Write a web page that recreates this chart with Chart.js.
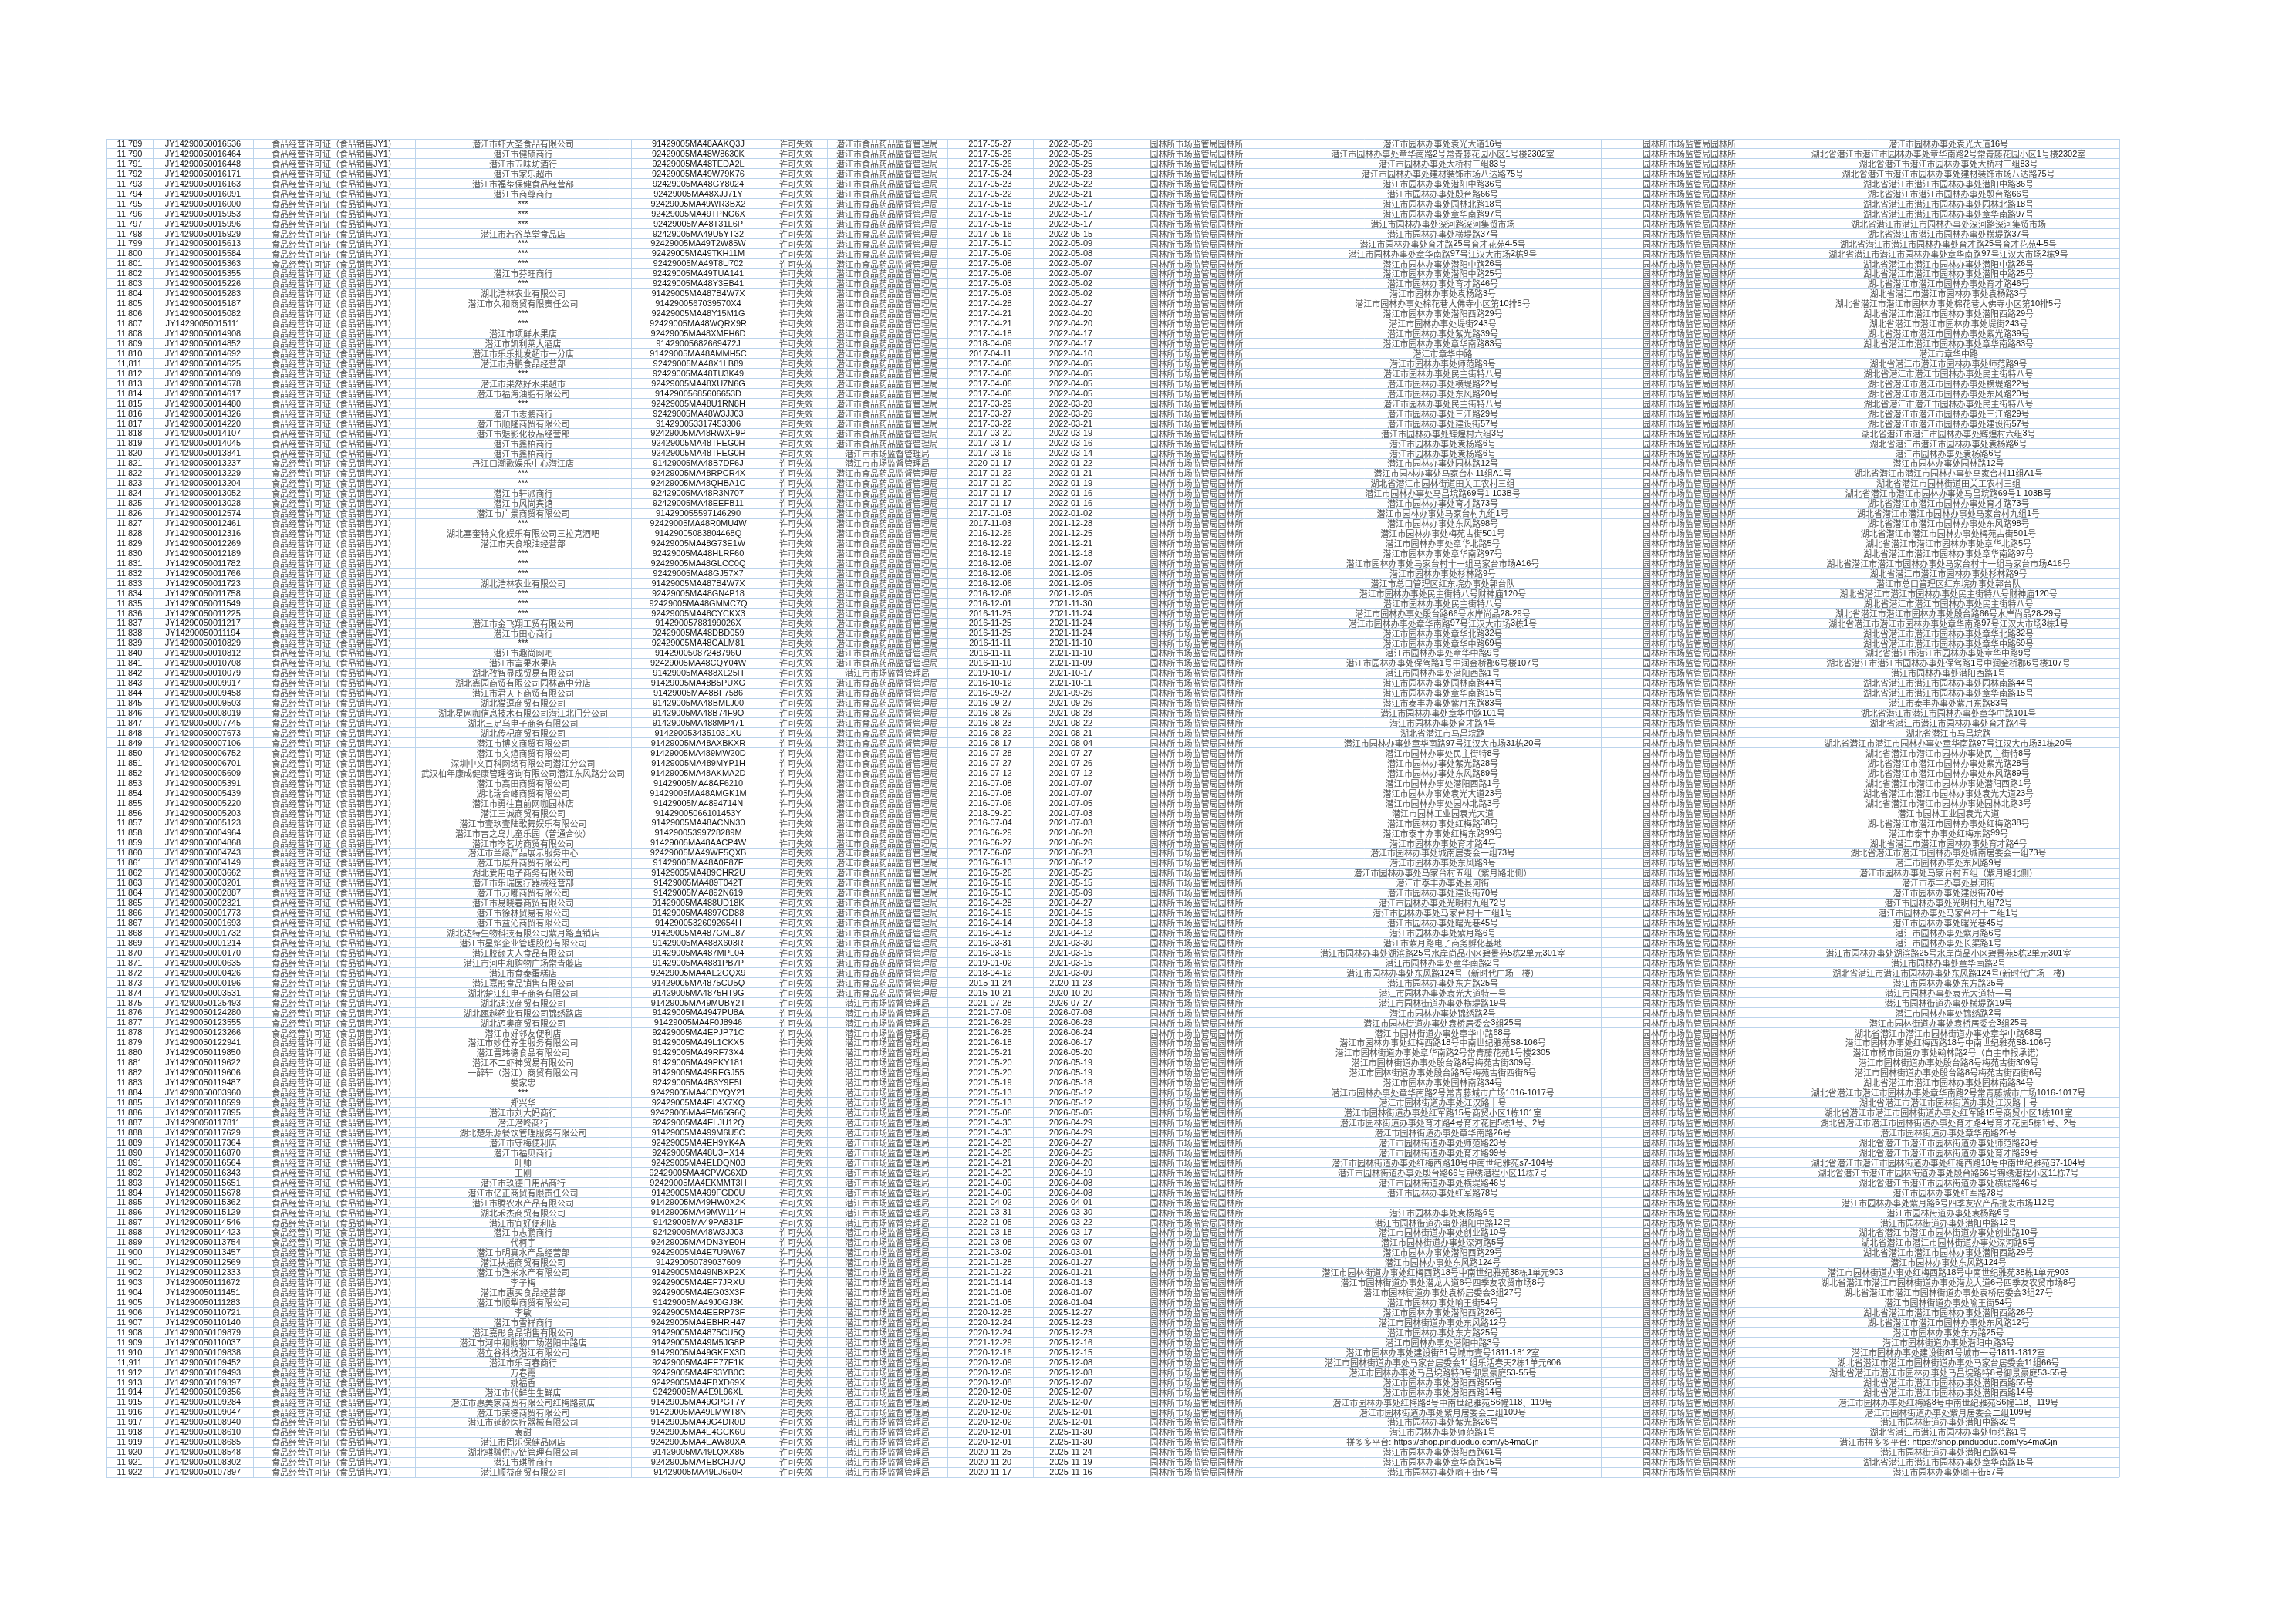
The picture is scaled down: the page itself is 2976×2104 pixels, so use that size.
<!DOCTYPE html>
<html>
<head>
<meta charset="utf-8">
<script src="https://cdn.jsdelivr.net/npm/chart.js@4.4.1/dist/chart.umd.min.js"></script>
<style>
  html, body { margin: 0; padding: 0; background: #fff; }
  canvas { display: block; }
</style>
</head>
<body>
<canvas id="tbl" width="2976" height="2104"></canvas>
<script>
var rowNo = [
  11789, 11790, 11791, 11792, 11793, 11794, 11795, 11796, 11797, 11798,
  11799, 11800, 11801, 11802, 11803, 11804, 11805, 11806, 11807, 11808,
  11809, 11810, 11811, 11812, 11813, 11814, 11815, 11816, 11817, 11818,
  11819, 11820, 11821, 11822, 11823, 11824, 11825, 11826, 11827, 11828,
  11829, 11830, 11831, 11832, 11833, 11834, 11835, 11836, 11837, 11838,
  11839, 11840, 11841, 11842, 11843, 11844, 11845, 11846, 11847, 11848,
  11849, 11850, 11851, 11852, 11853, 11854, 11855, 11856, 11857, 11858,
  11859, 11860, 11861, 11862, 11863, 11864, 11865, 11866, 11867, 11868,
  11869, 11870, 11871, 11872, 11873, 11874, 11875, 11876, 11877, 11878,
  11879, 11880, 11881, 11882, 11883, 11884, 11885, 11886, 11887, 11888,
  11889, 11890, 11891, 11892, 11893, 11894, 11895, 11896, 11897, 11898,
  11899, 11900, 11901, 11902, 11903, 11904, 11905, 11906, 11907, 11908,
  11909, 11910, 11911, 11912, 11913, 11914, 11915, 11916, 11917, 11918,
  11919, 11920, 11921, 11922
];

var licenceNo = [
  "JY14290050016536", "JY14290050016464", "JY14290050016448", "JY14290050016171", "JY14290050016163",
  "JY14290050016091", "JY14290050016000", "JY14290050015953", "JY14290050015996", "JY14290050015929",
  "JY14290050015613", "JY14290050015584", "JY14290050015363", "JY14290050015355", "JY14290050015226",
  "JY14290050015283", "JY14290050015187", "JY14290050015082", "JY14290050015111", "JY14290050014908",
  "JY14290050014852", "JY14290050014692", "JY14290050014625", "JY14290050014609", "JY14290050014578",
  "JY14290050014617", "JY14290050014480", "JY14290050014326", "JY14290050014220", "JY14290050014107",
  "JY14290050014045", "JY14290050013841", "JY14290050013237", "JY14290050013229", "JY14290050013204",
  "JY14290050013052", "JY14290050013028", "JY14290050012574", "JY14290050012461", "JY14290050012316",
  "JY14290050012269", "JY14290050012189", "JY14290050011782", "JY14290050011766", "JY14290050011723",
  "JY14290050011758", "JY14290050011549", "JY14290050011225", "JY14290050011217", "JY14290050011194",
  "JY14290050010829", "JY14290050010812", "JY14290050010708", "JY14290050010079", "JY14290050009917",
  "JY14290050009458", "JY14290050009503", "JY14290050008019", "JY14290050007745", "JY14290050007673",
  "JY14290050007106", "JY14290050006752", "JY14290050006701", "JY14290050005609", "JY14290050005391",
  "JY14290050005439", "JY14290050005220", "JY14290050005203", "JY14290050005123", "JY14290050004964",
  "JY14290050004868", "JY14290050004743", "JY14290050004149", "JY14290050003662", "JY14290050003201",
  "JY14290050002887", "JY14290050002321", "JY14290050001773", "JY14290050001693", "JY14290050001732",
  "JY14290050001214", "JY14290050000170", "JY14290050000635", "JY14290050000426", "JY14290050000196",
  "JY14290050003531", "JY14290050125493", "JY14290050124280", "JY14290050123555", "JY14290050123266",
  "JY14290050122941", "JY14290050119850", "JY14290050119622", "JY14290050119606", "JY14290050119487",
  "JY14290050003960", "JY14290050118599", "JY14290050117895", "JY14290050117811", "JY14290050117629",
  "JY14290050117364", "JY14290050116870", "JY14290050116564", "JY14290050116343", "JY14290050115651",
  "JY14290050115678", "JY14290050115362", "JY14290050115129", "JY14290050114546", "JY14290050114423",
  "JY14290050113754", "JY14290050113457", "JY14290050112569", "JY14290050112333", "JY14290050111672",
  "JY14290050111451", "JY14290050111283", "JY14290050110721", "JY14290050110140", "JY14290050109879",
  "JY14290050110037", "JY14290050109838", "JY14290050109452", "JY14290050109493", "JY14290050109397",
  "JY14290050109356", "JY14290050109284", "JY14290050109047", "JY14290050108940", "JY14290050108610",
  "JY14290050108685", "JY14290050108548", "JY14290050108302", "JY14290050107897"
];

var licenceType = "食品经营许可证（食品销售JY1）";

var entName = [
  "潜江市虾大圣食品有限公司", "潜江市健硕商行", "潜江市五味坊酒行", "潜江市家乐超市", "潜江市福蒂保健食品经营部",
  "潜江市商尊商行", "***", "***", "***", "潜江市若谷草堂食品店",
  "***", "***", "***", "潜江市芬旺商行", "***",
  "湖北浩林农业有限公司", "潜江市久和商贸有限责任公司", "***", "***", "潜江市项鲜水果店",
  "潜江市凯利莱大酒店", "潜江市乐乐批发超市一分店", "潜江市舟鹏食品经营部", "***", "潜江市果然好水果超市",
  "潜江市福海油脂有限公司", "***", "潜江市志鹏商行", "潜江市顺隆商贸有限公司", "潜江市魅影化妆品经营部",
  "潜江市鑫柏商行", "潜江市鑫柏商行", "丹江口潮歌娱乐中心潜江店", "***", "***",
  "潜江市轩派商行", "潜江市风尚宾馆", "潜江市广景商贸有限公司", "***", "湖北塞奎特文化娱乐有限公司三拉克酒吧",
  "潜江市天食粮油经营部", "***", "***", "***", "湖北浩林农业有限公司",
  "***", "***", "***", "潜江市金飞翔工贸有限公司", "潜江市田心商行",
  "***", "潜江市趣尚网吧", "潜江市富果水果店", "湖北孜智显成贸易有限公司", "湖北鑫园商贸有限公司园林高中分店",
  "潜江市君天下商贸有限公司", "湖北猫逗商贸有限公司", "湖北星网咖信息技术有限公司潜江北门分公司", "湖北三足乌电子商务有限公司", "湖北传杞商贸有限公司",
  "潜江市博文商贸有限公司", "潜江市文煊商贸有限公司", "深圳中文百科网络有限公司潜江分公司", "武汉柏年康成健康管理咨询有限公司潜江东风路分公司", "潜江市高田商贸有限公司",
  "湖北瑞合峰商贸有限公司", "潜江市勇往直前网咖园林店", "潜江三诚商贸有限公司", "潜江市壹玖壹陆歌舞娱乐有限公司", "潜江市吉之岛儿童乐园（普通合伙）",
  "潜江市岑茗坊商贸有限公司", "潜江市兰缘产品展示服务中心", "潜江市展升商贸有限公司", "湖北爱用电子商务有限公司", "潜江市乐瑞医疗器械经营部",
  "潜江市万嘟商贸有限公司", "潜江市易晓春商贸有限公司", "潜江市徐林贸易有限公司", "潜江市益沁商贸有限公司", "湖北达特生物科技有限公司紫月路直销店",
  "潜江市星焰企业管理股份有限公司", "潜江胶颜夫人食品有限公司", "潜江市河中和购物广场常青藤店", "潜江市食泰蛋糕店", "潜江嘉彤食品销售有限公司",
  "湖北楚江红电子商务有限公司", "湖北迪汉商贸有限公司", "湖北瓯越药业有限公司锦绣路店", "湖北迈奥商贸有限公司", "潜江市好邻友便利店",
  "潜江市妙佳养生服务有限公司", "潜江晋玮德食品有限公司", "潜江不二虾神贸易有限公司", "一醉轩（潜江）商贸有限公司", "娄家忠",
  "***", "郑兴华", "潜江市刘大妈商行", "潜江潜咚商行", "湖北楚乐源餐饮管理服务有限公司",
  "潜江市守梅便利店", "潜江市福贝商行", "叶帅", "王刚", "潜江市玖德日用品商行",
  "潜江市亿正商贸有限责任公司", "潜江市腾农水产品有限公司", "湖北禾杰商贸有限公司", "潜江市宜好便利店", "潜江市志鹏商行",
  "代柯宇", "潜江市明真水产品经营部", "潜江扶摇商贸有限公司", "潜江市渔米水产有限公司", "李子梅",
  "潜江市惠买食品经营部", "潜江市顺犁商贸有限公司", "李敏", "潜江市雪祥商行", "潜江嘉彤食品销售有限公司",
  "潜江市河中和购物广场潜阳中路店", "潜立谷科技潜江有限公司", "潜江市乐百春商行", "万春霞", "姚福香",
  "潜江市代鲜生生鲜店", "潜江市惠美家商贸有限公司红梅路贰店", "潜江市荣德商贸有限公司", "潜江市延龄医疗器械有限公司", "袁甜",
  "潜江市固乐保健品网店", "湖北骐骥供应链管理有限公司", "潜江市琪胜商行", "潜江顺益商贸有限公司"
];

var creditCode = [
  "91429005MA48AAKQ3J", "92429005MA48W8630K", "92429005MA48TEDA2L", "92429005MA49W79K76", "92429005MA48GY8024",
  "92429005MA48XJJ71Y", "92429005MA49WR3BX2", "92429005MA49TPNG6X", "92429005MA48T31L6P", "92429005MA49U5YT32",
  "92429005MA49T2W85W", "92429005MA49TKH11M", "92429005MA49T8U702", "92429005MA49TUA141", "92429005MA48Y3EB41",
  "91429005MA487B4W7X", "9142900567039570X4", "92429005MA48Y15M1G", "92429005MA48WQRX9R", "92429005MA48XMFH6D",
  "91429005682669472J", "91429005MA48AMMH5C", "92429005MA48X1LB89", "92429005MA48TU3K49", "92429005MA48XU7N6G",
  "91429005685606653D", "92429005MA48U1RN8H", "92429005MA48W3JJ03", "914290053317453306", "92429005MA48RWXF9P",
  "92429005MA48TFEG0H", "92429005MA48TFEG0H", "91429005MA48B7DF6J", "92429005MA48RPCR4X", "92429005MA48QHBA1C",
  "92429005MA48R3N707", "92429005MA48EEFB11", "914290055597146290", "92429005MA48R0MU4W", "91429005083804468Q",
  "92429005MA48G73E1W", "92429005MA48HLRF60", "92429005MA48GLCC0Q", "92429005MA48GJ57X7", "91429005MA487B4W7X",
  "92429005MA48GN4P18", "92429005MA48GMMC7Q", "92429005MA48CYCKX3", "91429005788199026X", "92429005MA48DBD059",
  "92429005MA48CALM81", "91429005087248796U", "92429005MA48CQY04W", "91429005MA488XL25H", "91429005MA48B5PUXG",
  "91429005MA48BF7586", "91429005MA48BMLJ00", "91429005MA48B74F9Q", "91429005MA488MP471", "9142900534351031XU",
  "91429005MA48AXBKXR", "91429005MA489MW20D", "91429005MA489MYP1H", "91429005MA48AKMA2D", "91429005MA48AF6210",
  "91429005MA48AMGK1M", "91429005MA4894714N", "91429005066101453Y", "91429005MA48ACNN30", "91429005399728289M",
  "91429005MA48AACP4W", "92429005MA49WE5QXB", "91429005MA48A0F87F", "91429005MA489CHR2U", "91429005MA489T042T",
  "91429005MA4892N619", "91429005MA488UD18K", "91429005MA4897GD88", "91429005326092654H", "91429005MA487GME87",
  "91429005MA488X603R", "91429005MA487MPL04", "91429005MA4881PB7P", "92429005MA4AE2GQX9", "91429005MA4875CU5Q",
  "91429005MA4875HT9G", "91429005MA49MUBY2T", "91429005MA4947PU8A", "91429005MA4F0J8946", "92429005MA4EPJP71C",
  "91429005MA49L1CKX5", "91429005MA49RF73X4", "91429005MA49PKY181", "91429005MA49REGJ55", "92429005MA4B3Y9E5L",
  "92429005MA4CDYQY21", "92429005MA4EL4X7XQ", "92429005MA4EM65G6Q", "92429005MA4ELJU12Q", "91429005MA499M6U5C",
  "92429005MA4EH9YK4A", "92429005MA48U3HX14", "92429005MA4ELDQN03", "92429005MA4CPWG6XD", "92429005MA4EKMMT3H",
  "91429005MA499FGD0U", "91429005MA49HW0X2K", "91429005MA49MW114H", "91429005MA49PA831F", "92429005MA48W3JJ03",
  "92429005MA4DN3YE0H", "92429005MA4E7U9W67", "914290050789037609", "91429005MA49NBXP2X", "92429005MA4EF7JRXU",
  "92429005MA4EG03X3F", "91429005MA49J0GJ3K", "92429005MA4EERP73F", "92429005MA4EBHRH47", "91429005MA4875CU5Q",
  "91429005MA49M5JG8P", "91429005MA49GKEX3D", "92429005MA4EE77E1K", "92429005MA4E93YB0C", "92429005MA4EBXD69X",
  "92429005MA4E9L96XL", "91429005MA49GPGT7Y", "91429005MA49LMWT8N", "91429005MA49G4DR0D", "92429005MA4E4GCK6U",
  "92429005MA4EAW80XA", "91429005MA49LQXX85", "92429005MA4EBCHJ7Q", "91429005MA49LJ690R"
];

var statusText = "许可失效";

var FDA = "潜江市食品药品监督管理局";
var SAMR = "潜江市市场监督管理局";
var issuer = [
  FDA, FDA, FDA, FDA, FDA, FDA, FDA, FDA, FDA, FDA,
  FDA, FDA, FDA, FDA, FDA, FDA, FDA, FDA, FDA, FDA,
  FDA, FDA, FDA, FDA, FDA, FDA, FDA, FDA, FDA, FDA,
  FDA, SAMR, SAMR, FDA, FDA, FDA, FDA, FDA, FDA, FDA,
  FDA, FDA, FDA, FDA, FDA, FDA, FDA, FDA, FDA, FDA,
  FDA, FDA, FDA, SAMR, FDA, FDA, FDA, FDA, FDA, FDA,
  FDA, FDA, FDA, FDA, FDA, FDA, FDA, FDA, FDA, FDA,
  FDA, FDA, FDA, FDA, FDA, FDA, FDA, FDA, FDA, FDA,
  FDA, FDA, FDA, FDA, FDA, FDA, SAMR, SAMR, SAMR, SAMR,
  SAMR, SAMR, SAMR, SAMR, SAMR, SAMR, SAMR, SAMR, SAMR, SAMR,
  SAMR, SAMR, SAMR, SAMR, SAMR, SAMR, SAMR, SAMR, SAMR, SAMR,
  SAMR, SAMR, SAMR, SAMR, SAMR, SAMR, SAMR, SAMR, SAMR, SAMR,
  SAMR, SAMR, SAMR, SAMR, SAMR, SAMR, SAMR, SAMR, SAMR, SAMR,
  SAMR, SAMR, SAMR, SAMR
];

var validFrom = [
  "2017-05-27", "2017-05-26", "2017-05-26", "2017-05-24", "2017-05-23", "2017-05-22", "2017-05-18", "2017-05-18", "2017-05-18", "2017-05-16",
  "2017-05-10", "2017-05-09", "2017-05-08", "2017-05-08", "2017-05-03", "2017-05-03", "2017-04-28", "2017-04-21", "2017-04-21", "2017-04-18",
  "2018-04-09", "2017-04-11", "2017-04-06", "2017-04-06", "2017-04-06", "2017-04-06", "2017-03-29", "2017-03-27", "2017-03-22", "2017-03-20",
  "2017-03-17", "2017-03-16", "2020-01-17", "2017-01-22", "2017-01-20", "2017-01-17", "2017-01-17", "2017-01-03", "2017-11-03", "2016-12-26",
  "2016-12-22", "2016-12-19", "2016-12-08", "2016-12-06", "2016-12-06", "2016-12-06", "2016-12-01", "2016-11-25", "2016-11-25", "2016-11-25",
  "2016-11-11", "2016-11-11", "2016-11-10", "2019-10-17", "2016-10-12", "2016-09-27", "2016-09-27", "2016-08-29", "2016-08-23", "2016-08-22",
  "2016-08-17", "2016-07-28", "2016-07-27", "2016-07-12", "2016-07-08", "2016-07-08", "2016-07-06", "2018-09-20", "2016-07-04", "2016-06-29",
  "2016-06-27", "2017-06-02", "2016-06-13", "2016-05-26", "2016-05-16", "2016-05-10", "2016-04-28", "2016-04-16", "2016-04-14", "2016-04-13",
  "2016-03-31", "2016-03-16", "2019-01-02", "2018-04-12", "2015-11-24", "2015-10-21", "2021-07-28", "2021-07-09", "2021-06-29", "2021-06-25",
  "2021-06-18", "2021-05-21", "2021-05-20", "2021-05-20", "2021-05-19", "2021-05-13", "2021-05-13", "2021-05-06", "2021-04-30", "2021-04-30",
  "2021-04-28", "2021-04-26", "2021-04-21", "2021-04-20", "2021-04-09", "2021-04-09", "2021-04-02", "2021-03-31", "2022-01-05", "2021-03-18",
  "2021-03-08", "2021-03-02", "2021-01-28", "2021-01-22", "2021-01-14", "2021-01-08", "2021-01-05", "2020-12-28", "2020-12-24", "2020-12-24",
  "2021-12-29", "2020-12-16", "2020-12-09", "2020-12-09", "2020-12-08", "2020-12-08", "2020-12-08", "2020-12-02", "2020-12-02", "2020-12-01",
  "2020-12-01", "2020-11-25", "2020-11-20", "2020-11-17"
];

var validTo = [
  "2022-05-26", "2022-05-25", "2022-05-25", "2022-05-23", "2022-05-22", "2022-05-21", "2022-05-17", "2022-05-17", "2022-05-17", "2022-05-15",
  "2022-05-09", "2022-05-08", "2022-05-07", "2022-05-07", "2022-05-02", "2022-05-02", "2022-04-27", "2022-04-20", "2022-04-20", "2022-04-17",
  "2022-04-17", "2022-04-10", "2022-04-05", "2022-04-05", "2022-04-05", "2022-04-05", "2022-03-28", "2022-03-26", "2022-03-21", "2022-03-19",
  "2022-03-16", "2022-03-14", "2022-01-22", "2022-01-21", "2022-01-19", "2022-01-16", "2022-01-16", "2022-01-02", "2021-12-28", "2021-12-25",
  "2021-12-21", "2021-12-18", "2021-12-07", "2021-12-05", "2021-12-05", "2021-12-05", "2021-11-30", "2021-11-24", "2021-11-24", "2021-11-24",
  "2021-11-10", "2021-11-10", "2021-11-09", "2021-10-17", "2021-10-11", "2021-09-26", "2021-09-26", "2021-08-28", "2021-08-22", "2021-08-21",
  "2021-08-04", "2021-07-27", "2021-07-26", "2021-07-12", "2021-07-07", "2021-07-07", "2021-07-05", "2021-07-03", "2021-07-03", "2021-06-28",
  "2021-06-26", "2021-06-23", "2021-06-12", "2021-05-25", "2021-05-15", "2021-05-09", "2021-04-27", "2021-04-15", "2021-04-13", "2021-04-12",
  "2021-03-30", "2021-03-15", "2021-03-15", "2021-03-09", "2020-11-23", "2020-10-20", "2026-07-27", "2026-07-08", "2026-06-28", "2026-06-24",
  "2026-06-17", "2026-05-20", "2026-05-19", "2026-05-19", "2026-05-18", "2026-05-12", "2026-05-12", "2026-05-05", "2026-04-29", "2026-04-29",
  "2026-04-27", "2026-04-25", "2026-04-20", "2026-04-19", "2026-04-08", "2026-04-08", "2026-04-01", "2026-03-30", "2026-03-22", "2026-03-17",
  "2026-03-07", "2026-03-01", "2026-01-27", "2026-01-21", "2026-01-13", "2026-01-07", "2026-01-04", "2025-12-27", "2025-12-23", "2025-12-23",
  "2025-12-16", "2025-12-15", "2025-12-08", "2025-12-08", "2025-12-07", "2025-12-07", "2025-12-07", "2025-12-01", "2025-12-01", "2025-11-30",
  "2025-11-30", "2025-11-24", "2025-11-19", "2025-11-16"
];

var office = "园林所市场监管局园林所";

var address = [
  "潜江市园林办事处袁光大道16号", "潜江市园林办事处章华南路2号常青藤花园小区1号楼2302室", "潜江市园林办事处大桥村三组83号",
  "潜江市园林办事处建材装饰市场八达路75号", "潜江市园林办事处潜阳中路36号", "潜江市园林办事处殷台路66号",
  "潜江市园林办事处园林北路18号", "潜江市园林办事处章华南路97号", "潜江市园林办事处深河路深河集贸市场",
  "潜江市园林办事处横堤路37号", "潜江市园林办事处育才路25号育才花苑4-5号", "潜江市园林办事处章华南路97号江汉大市场2栋9号",
  "潜江市园林办事处潜阳中路26号", "潜江市园林办事处潜阳中路25号", "潜江市园林办事处育才路46号",
  "潜江市园林办事处袁杨路3号", "潜江市园林办事处棉花巷大佛寺小区第10排5号", "潜江市园林办事处潜阳西路29号",
  "潜江市园林办事处堤街243号", "潜江市园林办事处紫光路39号", "潜江市园林办事处章华南路83号",
  "潜江市章华中路", "潜江市园林办事处师范路9号", "潜江市园林办事处民主街特八号",
  "潜江市园林办事处横堤路22号", "潜江市园林办事处东风路20号", "潜江市园林办事处民主街特八号",
  "潜江市园林办事处三江路29号", "潜江市园林办事处建设街57号", "潜江市园林办事处辉煌村六组3号",
  "潜江市园林办事处袁杨路6号", "潜江市园林办事处袁杨路6号", "潜江市园林办事处园林路12号",
  "潜江市园林办事处马家台村11组A1号", "湖北省潜江市园林街道田关工农村三组", "潜江市园林办事处马昌垸路69号1-103B号",
  "潜江市园林办事处育才路73号", "潜江市园林办事处马家台村九组1号", "潜江市园林办事处东风路98号",
  "潜江市园林办事处梅苑古街501号", "潜江市园林办事处章华北路5号", "潜江市园林办事处章华南路97号",
  "潜江市园林办事处马家台村十一组马家台市场A16号", "潜江市园林办事处杉林路9号", "潜江市总口管理区红东垸办事处郭台队",
  "潜江市园林办事处民主街特八号财神庙120号", "潜江市园林办事处民主街特八号", "潜江市园林办事处殷台路66号水岸尚品28-29号",
  "潜江市园林办事处章华南路97号江汉大市场3栋1号", "潜江市园林办事处章华北路32号", "潜江市园林办事处章华中路69号",
  "潜江市园林办事处章华中路9号", "潜江市园林办事处保驾路1号中润金桥郡6号楼107号", "潜江市园林办事处潜阳西路1号",
  "潜江市园林办事处园林南路44号", "潜江市园林办事处章华南路15号", "潜江市泰丰办事处紫月东路83号",
  "潜江市园林办事处章华中路101号", "潜江市园林办事处育才路4号", "湖北省潜江市马昌垸路",
  "潜江市园林办事处章华南路97号江汉大市场31栋20号", "潜江市园林办事处民主街特8号", "潜江市园林办事处紫光路28号",
  "潜江市园林办事处东风路89号", "潜江市园林办事处潜阳西路1号", "潜江市园林办事处袁光大道23号",
  "潜江市园林办事处园林北路3号", "潜江市园林工业园袁光大道", "潜江市园林办事处红梅路38号",
  "潜江市泰丰办事处红梅东路99号", "潜江市园林办事处育才路4号", "潜江市园林办事处城南居委会一组73号",
  "潜江市园林办事处东风路9号", "潜江市园林办事处马家台村五组（紫月路北侧）", "潜江市泰丰办事处县河街",
  "潜江市园林办事处建设街70号", "潜江市园林办事处光明村九组72号", "潜江市园林办事处马家台村十二组1号",
  "潜江市园林办事处曙光巷45号", "潜江市园林办事处紫月路6号", "潜江市紫月路电子商务孵化基地",
  "潜江市园林办事处湖滨路25号水岸尚品小区碧景苑5栋2单元301室", "潜江市园林办事处章华南路2号", "潜江市园林办事处东风路124号（新时代广场一楼）",
  "潜江市园林办事处东方路25号", "潜江市园林办事处袁光大道特一号", "潜江市园林街道办事处横堤路19号",
  "潜江市园林办事处锦绣路2号", "潜江市园林街道办事处袁桥居委会3组25号", "潜江市园林街道办事处章华中路68号",
  "潜江市园林办事处红梅西路18号中南世纪雅苑S8-106号", "潜江市园林街道办事处章华南路2号常青藤花苑1号楼2305", "潜江市园林街道办事处殷台路8号梅苑古街309号.",
  "潜江市园林街道办事处殷台路8号梅苑古街西街6号", "潜江市园林办事处园林南路34号", "潜江市园林办事处章华南路2号常青藤城市广场1016-1017号",
  "潜江市园林街道办事处江汉路十号", "潜江市园林街道办事处红军路15号商贸小区1栋101室", "潜江市园林街道办事处育才路4号育才花园5栋1号、2号",
  "潜江市园林街道办事处章华南路26号", "潜江市园林街道办事处师范路23号", "潜江市园林街道办事处育才路99号",
  "潜江市园林街道办事处红梅西路18号中南世纪雅苑s7-104号", "潜江市园林街道办事处殷台路66号锦绣潜程小区11栋7号", "潜江市园林街道办事处横堤路46号",
  "潜江市园林办事处红军路78号", "", "潜江市园林办事处袁杨路6号",
  "潜江市园林街道办事处潜阳中路12号", "潜江市园林街道办事处创业路10号", "潜江市园林街道办事处深河路5号",
  "潜江市园林办事处潜阳西路29号", "潜江市园林办事处东风路124号", "潜江市园林街道办事处红梅西路18号中南世纪雅苑38栋1单元903",
  "潜江市园林街道办事处潜龙大道6号四季友农贸市场8号", "潜江市园林街道办事处袁桥居委会3组27号", "潜江市园林办事处喻王街54号",
  "潜江市园林办事处潜阳西路26号", "潜江市园林街道办事处东风路12号", "潜江市园林办事处东方路25号",
  "潜江市园林办事处潜阳中路3号", "潜江市园林办事处建设街81号城市壹号1811-1812室", "潜江市园林街道办事处马家台居委会11组乐活春天2栋1单元606",
  "潜江市园林办事处马昌垸路特8号御景豪庭53-55号", "潜江市园林办事处潜阳西路55号", "潜江市园林办事处潜阳西路14号",
  "潜江市园林办事处红梅路8号中南世纪雅苑S6幢118、119号", "潜江市园林街道办事处紫月居委会二组109号", "潜江市园林办事处紫光路26号",
  "潜江市园林办事处师范路1号", "拼多多平台: https://shop.pinduoduo.com/y54maGjn", "潜江市园林办事处潜阳西路61号",
  "潜江市园林办事处章华南路15号", "潜江市园林办事处喻王街57号"
];

var regAddress = [
  "潜江市园林办事处袁光大道16号", "湖北省潜江市潜江市园林办事处章华南路2号常青藤花园小区1号楼2302室", "湖北省潜江市潜江市园林办事处大桥村三组83号",
  "湖北省潜江市潜江市园林办事处建材装饰市场八达路75号", "湖北省潜江市潜江市园林办事处潜阳中路36号", "湖北省潜江市潜江市园林办事处殷台路66号",
  "湖北省潜江市潜江市园林办事处园林北路18号", "湖北省潜江市潜江市园林办事处章华南路97号", "湖北省潜江市潜江市园林办事处深河路深河集贸市场",
  "湖北省潜江市潜江市园林办事处横堤路37号", "湖北省潜江市潜江市园林办事处育才路25号育才花苑4-5号", "湖北省潜江市潜江市园林办事处章华南路97号江汉大市场2栋9号",
  "湖北省潜江市潜江市园林办事处潜阳中路26号", "湖北省潜江市潜江市园林办事处潜阳中路25号", "湖北省潜江市潜江市园林办事处育才路46号",
  "湖北省潜江市潜江市园林办事处袁杨路3号", "湖北省潜江市潜江市园林办事处棉花巷大佛寺小区第10排5号", "湖北省潜江市潜江市园林办事处潜阳西路29号",
  "湖北省潜江市潜江市园林办事处堤街243号", "湖北省潜江市潜江市园林办事处紫光路39号", "湖北省潜江市潜江市园林办事处章华南路83号",
  "潜江市章华中路", "湖北省潜江市潜江市园林办事处师范路9号", "湖北省潜江市潜江市园林办事处民主街特八号",
  "湖北省潜江市潜江市园林办事处横堤路22号", "湖北省潜江市潜江市园林办事处东风路20号", "湖北省潜江市潜江市园林办事处民主街特八号",
  "湖北省潜江市潜江市园林办事处三江路29号", "湖北省潜江市潜江市园林办事处建设街57号", "湖北省潜江市潜江市园林办事处辉煌村六组3号",
  "湖北省潜江市潜江市园林办事处袁杨路6号", "潜江市园林办事处袁杨路6号", "潜江市园林办事处园林路12号",
  "湖北省潜江市潜江市园林办事处马家台村11组A1号", "湖北省潜江市园林街道田关工农村三组", "湖北省潜江市潜江市园林办事处马昌垸路69号1-103B号",
  "湖北省潜江市潜江市园林办事处育才路73号", "湖北省潜江市潜江市园林办事处马家台村九组1号", "湖北省潜江市潜江市园林办事处东风路98号",
  "湖北省潜江市潜江市园林办事处梅苑古街501号", "湖北省潜江市潜江市园林办事处章华北路5号", "湖北省潜江市潜江市园林办事处章华南路97号",
  "湖北省潜江市潜江市园林办事处马家台村十一组马家台市场A16号", "湖北省潜江市潜江市园林办事处杉林路9号", "潜江市总口管理区红东垸办事处郭台队",
  "湖北省潜江市潜江市园林办事处民主街特八号财神庙120号", "湖北省潜江市潜江市园林办事处民主街特八号", "湖北省潜江市潜江市园林办事处殷台路66号水岸尚品28-29号",
  "湖北省潜江市潜江市园林办事处章华南路97号江汉大市场3栋1号", "湖北省潜江市潜江市园林办事处章华北路32号", "湖北省潜江市潜江市园林办事处章华中路69号",
  "湖北省潜江市潜江市园林办事处章华中路9号", "湖北省潜江市潜江市园林办事处保驾路1号中润金桥郡6号楼107号", "潜江市园林办事处潜阳西路1号",
  "湖北省潜江市潜江市园林办事处园林南路44号", "湖北省潜江市潜江市园林办事处章华南路15号", "潜江市泰丰办事处紫月东路83号",
  "湖北省潜江市潜江市园林办事处章华中路101号", "湖北省潜江市潜江市园林办事处育才路4号", "湖北省潜江市马昌垸路",
  "湖北省潜江市潜江市园林办事处章华南路97号江汉大市场31栋20号", "湖北省潜江市潜江市园林办事处民主街特8号", "湖北省潜江市潜江市园林办事处紫光路28号",
  "湖北省潜江市潜江市园林办事处东风路89号", "湖北省潜江市潜江市园林办事处潜阳西路1号", "湖北省潜江市潜江市园林办事处袁光大道23号",
  "湖北省潜江市潜江市园林办事处园林北路3号", "潜江市园林工业园袁光大道", "湖北省潜江市潜江市园林办事处红梅路38号",
  "潜江市泰丰办事处红梅东路99号", "湖北省潜江市潜江市园林办事处育才路4号", "湖北省潜江市潜江市园林办事处城南居委会一组73号",
  "潜江市园林办事处东风路9号", "潜江市园林办事处马家台村五组（紫月路北侧）", "潜江市泰丰办事处县河街",
  "潜江市园林办事处建设街70号", "潜江市园林办事处光明村九组72号", "潜江市园林办事处马家台村十二组1号",
  "潜江市园林办事处曙光巷45号", "潜江市园林办事处紫月路6号", "潜江市园林办事处长渠路1号",
  "潜江市园林办事处湖滨路25号水岸尚品小区碧景苑5栋2单元301室", "潜江市园林办事处章华南路2号", "湖北省潜江市潜江市园林办事处东风路124号(新时代广场一楼)",
  "潜江市园林办事处东方路25号", "潜江市园林办事处袁光大道特一号", "潜江市园林街道办事处横堤路19号",
  "潜江市园林办事处锦绣路2号", "潜江市园林街道办事处袁桥居委会3组25号", "湖北省潜江市潜江市园林街道办事处章华中路68号",
  "潜江市园林办事处红梅西路18号中南世纪雅苑S8-106号", "潜江市杨市街道办事处翰林路2号（自主申报承诺）", "潜江市园林街道办事处殷台路8号梅苑古街309号",
  "潜江市园林街道办事处殷台路8号梅苑古街西街6号", "湖北省潜江市潜江市园林办事处园林南路34号", "湖北省潜江市潜江市园林办事处章华南路2号常青藤城市广场1016-1017号",
  "湖北省潜江市潜江市园林街道办事处江汉路十号", "湖北省潜江市潜江市园林街道办事处红军路15号商贸小区1栋101室", "湖北省潜江市潜江市园林街道办事处育才路4号育才花园5栋1号、2号",
  "潜江市园林街道办事处章华南路26号", "湖北省潜江市潜江市园林街道办事处师范路23号", "湖北省潜江市潜江市园林街道办事处育才路99号",
  "湖北省潜江市潜江市园林街道办事处红梅西路18号中南世纪雅苑S7-104号", "湖北省潜江市潜江市园林街道办事处殷台路66号锦绣潜程小区11栋7号", "湖北省潜江市潜江市园林街道办事处横堤路46号",
  "潜江市园林办事处红军路78号", "潜江市园林办事处紫月路6号四季友农产品批发市场112号", "潜江市园林街道办事处袁杨路6号",
  "潜江市园林街道办事处潜阳中路12号", "湖北省潜江市潜江市园林街道办事处创业路10号", "湖北省潜江市潜江市园林街道办事处深河路5号",
  "湖北省潜江市潜江市园林办事处潜阳西路29号", "潜江市园林办事处东风路124号", "潜江市园林街道办事处红梅西路18号中南世纪雅苑38栋1单元903",
  "湖北省潜江市潜江市园林街道办事处潜龙大道6号四季友农贸市场8号", "湖北省潜江市潜江市园林街道办事处袁桥居委会3组27号", "潜江市园林街道办事处喻王街54号",
  "湖北省潜江市潜江市园林办事处潜阳西路26号", "湖北省潜江市潜江市园林办事处东风路12号", "潜江市园林办事处东方路25号",
  "潜江市园林街道办事处潜阳中路3号", "潜江市园林办事处建设街81号城市一号1811-1812室", "湖北省潜江市潜江市园林街道办事处马家台居委会11组66号",
  "湖北省潜江市潜江市园林办事处马昌垸路特8号御景豪庭53-55号", "湖北省潜江市潜江市园林办事处潜阳西路55号", "湖北省潜江市潜江市园林办事处潜阳西路14号",
  "潜江市园林办事处红梅路8号中南世纪雅苑S6幢118、119号", "潜江市园林街道办事处紫月居委会二组109号", "潜江市园林街道办事处潜阳中路32号",
  "湖北省潜江市潜江市园林办事处师范路1号", "潜江市拼多多平台: https://shop.pinduoduo.com/y54maGjn", "潜江市园林街道办事处潜阳西路61号",
  "湖北省潜江市潜江市园林办事处章华南路15号", "潜江市园林办事处喻王街57号"
];

// layout: column widths in px, table origin
var colWidths = [60, 130, 210, 280, 174, 80, 156, 111, 98, 228, 410, 229, 443];
var tableLeft = 138, tableTop = 180, rowH = 12.95;
var nRows = rowNo.length;

var colEdges = [0];
colWidths.forEach(function (w) { colEdges.push(colEdges[colEdges.length - 1] + w); });
var totalW = colEdges[colEdges.length - 1];

function repeat(v) { return rowNo.map(function () { return v; }); }

var columns = [
  rowNo.map(function (n) { return n.toLocaleString("en-US"); }),
  licenceNo,
  repeat(licenceType),
  entName,
  creditCode,
  repeat(statusText),
  issuer,
  validFrom,
  validTo,
  repeat(office),
  address,
  repeat(office),
  regAddress
];

var isCJK = /[\u2E80-\u9FFF\uFF00-\uFFEF\u3000-\u303F]/;
var FONT_CJK = '11px "Noto Sans CJK SC", sans-serif';
var FONT_LAT = '11px "Liberation Sans", Arial, sans-serif';

function drawMixed(ctx, str, cx, cy) {
  if (!str) return;
  var runs = [], cur = null;
  for (var k = 0; k < str.length; k++) {
    var ch = str[k], cj = isCJK.test(ch);
    if (!cur || cur.cjk !== cj) { cur = { cjk: cj, s: "" }; runs.push(cur); }
    cur.s += ch;
  }
  var total = 0;
  runs.forEach(function (r) {
    ctx.font = r.cjk ? FONT_CJK : FONT_LAT;
    r.w = ctx.measureText(r.s).width;
    total += r.w;
  });
  var x = cx - total / 2;
  runs.forEach(function (r) {
    ctx.font = r.cjk ? FONT_CJK : FONT_LAT;
    ctx.fillStyle = r.cjk ? "#555555" : "#151515";
    ctx.fillText(r.s, x, cy);
    x += r.w;
  });
}

var cellText = {
  id: "cellText",
  afterDatasetsDraw: function (chart) {
    var ctx = chart.ctx;
    ctx.save();
    ctx.textBaseline = "middle";
    ctx.textAlign = "left";
    chart.data.datasets.forEach(function (ds, d) {
      chart.getDatasetMeta(d).data.forEach(function (pt, i) {
        drawMixed(ctx, ds.texts[i], pt.x, pt.y + 0.5);
      });
    });
    ctx.restore();
  }
};

var datasets = columns.map(function (col, c) {
  var cx = (colEdges[c] + colEdges[c + 1]) / 2;
  return {
    data: col.map(function (_, i) { return { x: cx, y: i + 0.5 }; }),
    texts: col,
    pointRadius: 0,
    pointHoverRadius: 0,
    showLine: false
  };
});

var gridColor = "#bcd4ec";

new Chart(document.getElementById("tbl"), {
  type: "scatter",
  data: { datasets: datasets },
  options: {
    responsive: false,
    devicePixelRatio: 1,
    animation: false,
    events: [],
    layout: {
      padding: {
        left: tableLeft,
        top: tableTop,
        right: 2976 - tableLeft - totalW,
        bottom: 2104 - tableTop - Math.round(nRows * rowH)
      }
    },
    plugins: { legend: { display: false }, tooltip: { enabled: false } },
    scales: {
      x: {
        type: "linear",
        min: 0,
        max: totalW,
        afterBuildTicks: function (s) { s.ticks = colEdges.map(function (v) { return { value: v }; }); },
        afterFit: function (s) { s.height = 0; },
        ticks: { display: false },
        grid: { color: gridColor, lineWidth: 1, drawTicks: false },
        border: { display: false }
      },
      y: {
        type: "linear",
        reverse: true,
        min: 0,
        max: nRows,
        afterBuildTicks: function (s) { s.ticks = rowNo.concat([0]).map(function (_, i) { return { value: i }; }); },
        afterFit: function (s) { s.width = 0; },
        ticks: { display: false },
        grid: { color: gridColor, lineWidth: 1, drawTicks: false },
        border: { display: false }
      }
    }
  },
  plugins: [cellText]
});
</script>
</body>
</html>
